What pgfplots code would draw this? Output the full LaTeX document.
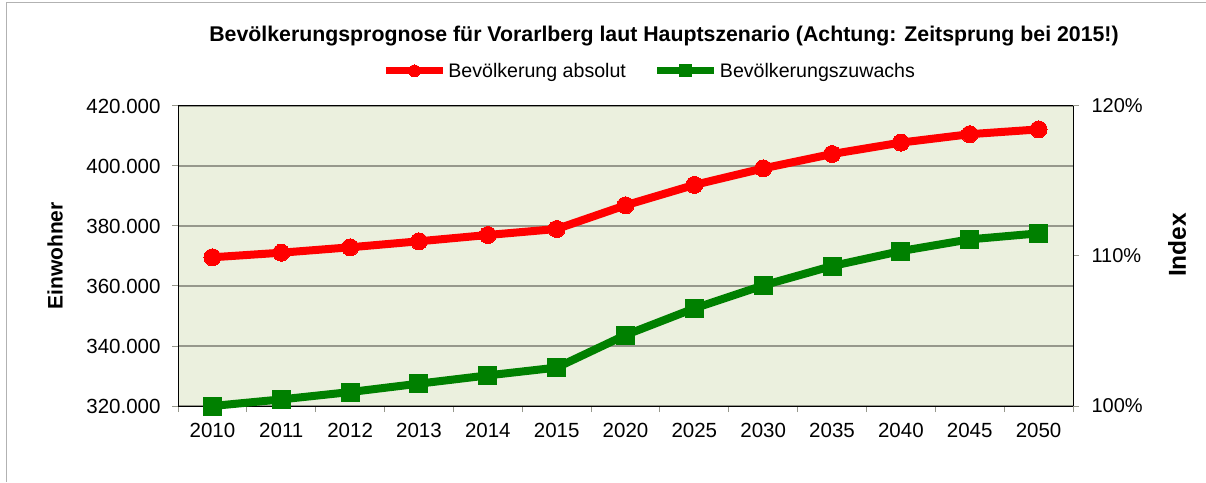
\documentclass[border=0pt]{standalone}
\usepackage{fontspec}
\setmainfont{Liberation Sans}
\usepackage{pgfplots}
\pgfplotsset{compat=1.18}
\definecolor{bgc}{RGB}{235,240,222}
\definecolor{gridc}{RGB}{150,152,140}
\definecolor{myred}{RGB}{255,0,0}
\definecolor{mygreen}{RGB}{0,128,0}
\begin{document}
\begin{tikzpicture}[x=1pt,y=1pt]
\useasboundingbox (0,0) rectangle (1206,482);
\draw[gray!60, line width=1pt] (6.5,0) -- (6.5,479.5) -- (1206,479.5);
\node[font=\bfseries\fontsize{21.3}{24}\selectfont] at (664,446) {Bevölkerungsprognose für Vorarlberg laut Hauptszenario (Achtung: Zeitsprung bei 2015!)};
\node[rotate=90, font=\bfseries\fontsize{21}{24}\selectfont] at (55,226) {Einwohner};
\node[rotate=90, font=\bfseries\fontsize{24.5}{28}\selectfont] at (1177,237) {Index};
\begin{axis}[
  at={(178pt,76pt)}, anchor=south west,
  scale only axis, width=895pt, height=300pt,
  clip=false,
  xmin=-0.5, xmax=12.5, ymin=320000, ymax=420000,
  xtick pos=bottom, ytick pos=left,
  xtick={-0.5,0.5,...,12.5}, xticklabels={},
  extra x ticks={0,1,...,12},
  extra x tick labels={2010,2011,2012,2013,2014,2015,2020,2025,2030,2035,2040,2045,2050},
  extra x tick style={major tick length=0pt, grid=none},
  ytick={320000,340000,...,420000},
  scaled y ticks=false,
  ymajorgrids, grid style={gridc, line width=1.3pt},
  axis background/.style={fill=bgc},
  tick align=outside, major tick length=6pt,
  tick style={gridc, line width=1pt},
  axis line style={black, line width=1pt},
  /pgf/number format/assume math mode=true,
  /pgf/number format/.cd, 1000 sep={.}, fixed, /pgfplots/.cd,
  ticklabel style={font=\fontsize{20.5}{24}\selectfont},
  yticklabel style={xshift=-8pt},
  xticklabel style={yshift=-14pt},
]
\addplot[myred, line width=8pt, line join=round, mark=*, mark size=8.5pt, mark options={solid, fill=myred, draw=myred, line width=0pt}]
coordinates {(0,369570)(1,371100)(2,372900)(3,374900)(4,377000)(5,379000)(6,386900)(7,393700)(8,399200)(9,404000)(10,407800)(11,410600)(12,412200)};
\end{axis}
\begin{axis}[
  at={(178pt,76pt)}, anchor=south west,
  scale only axis, width=895pt, height=300pt,
  clip=false,
  xmin=-0.5, xmax=12.5, ymin=100, ymax=120,
  axis x line=none, axis y line*=right,
  ytick={100,110,120},
  yticklabel={\pgfmathprintnumber{\tick}\%},
  tick align=outside, major tick length=6pt,
  tick style={gridc, line width=1pt},
  axis line style={black, line width=1pt},
  /pgf/number format/assume math mode=true,
  ticklabel style={font=\fontsize{20}{24}\selectfont},
  yticklabel style={xshift=9pt},
  legend columns=2,
  legend style={at={(0.527,1.117)}, anchor=center, draw=none, fill=none,
    font=\fontsize{19.6}{23}\selectfont,
    /tikz/every even column/.append style={column sep=26pt},
    inner sep=0pt, row sep=0pt},
  legend image code/.code={\draw[#1, line width=7pt, mark repeat=2, mark phase=2] plot coordinates {(0pt,0pt) (28.5pt,0pt) (57pt,0pt)};},
]
\addlegendimage{myred, mark=*, mark size=6pt, mark options={solid, fill=myred, draw=myred, line width=0pt}}
\addlegendentry{Bevölkerung absolut}
\addplot[mygreen, line width=8pt, line join=round, mark=square*, mark size=9pt, mark options={solid, fill=mygreen, draw=mygreen, line width=0pt}, forget plot]
coordinates {(0,100.0)(1,100.44)(2,100.93)(3,101.49)(4,102.04)(5,102.56)(6,104.73)(7,106.51)(8,108.04)(9,109.33)(10,110.33)(11,111.11)(12,111.51)};
\addlegendimage{mygreen, mark=square*, mark size=6pt, mark options={solid, fill=mygreen, draw=mygreen, line width=0pt}}
\addlegendentry{Bevölkerungszuwachs}
\end{axis}
\end{tikzpicture}
\end{document}
